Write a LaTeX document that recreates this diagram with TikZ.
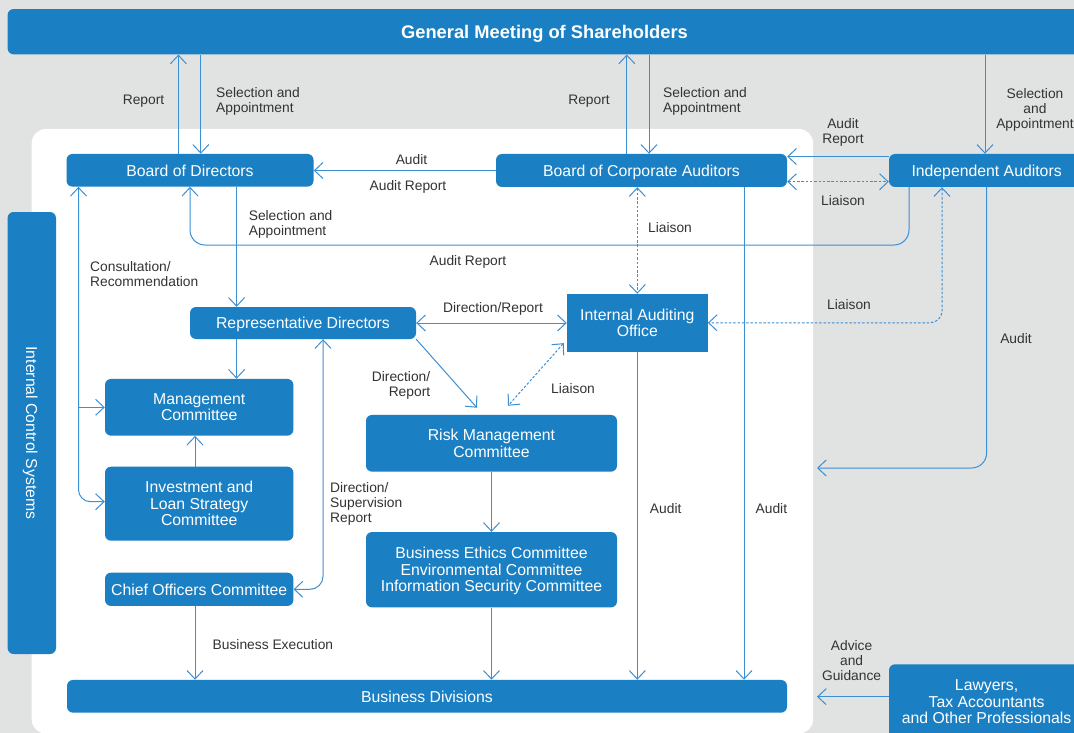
\documentclass[tikz,border=0pt]{standalone}
\usepackage{fontspec}
\setmainfont{Liberation Sans}
\usetikzlibrary{arrows.meta}
\definecolor{boxblue}{HTML}{1A7FC3}
\definecolor{lineblue}{HTML}{3D8FD3}
\definecolor{bggray}{HTML}{E1E2E2}
\definecolor{lbl}{HTML}{333333}
\begin{document}
\begin{tikzpicture}[x=1pt,y=-1pt,
  box/.style={fill=boxblue, text=white, rounded corners=6pt, inner sep=0pt, align=center, text depth=0pt, font=\fontsize{15.8}{16.5}\selectfont},
  lab/.style={text=lbl, inner sep=0pt, font=\fontsize{13.8}{15}\selectfont},
  conn/.style={draw=lineblue, line width=1pt, >={Straight Barb[length=8.5pt,width=16pt]}},
  dotconn/.style={conn, dash pattern=on 2.5pt off 1.8pt},
]
\useasboundingbox (0,0) rectangle (1074,733);
\clip (0,0) rectangle (1074,733);
\fill[bggray] (0,0) rectangle (1074,733);
\fill[white, rounded corners=14pt] (31.7,129) rectangle (813,733.5);

% boxes
\node[box, minimum width=1073.8pt, minimum height=45.3pt, font=\bfseries\fontsize{18.3}{20}\selectfont] (gm) at (544.5,31.7) {General Meeting of Shareholders};
\node[box, minimum width=247pt, minimum height=32.7pt] (bod) at (190,170.3) {Board of Directors};
\node[box, minimum width=291pt, minimum height=33pt] (bca) at (641.5,170.5) {Board of Corporate Auditors};
\node[box, minimum width=195.2pt, minimum height=33pt] (ia) at (986.6,170.5) {Independent Auditors};
\node[box, rotate=-90, minimum width=442pt, minimum height=48.4pt] (ics) at (31.8,433) {Internal Control Systems};
\node[box, minimum width=226pt, minimum height=32pt] (rep) at (303,323) {Representative Directors};
\node[box, sharp corners, minimum width=140.7pt, minimum height=57.7pt] (iao) at (637.3,322.8) {Internal Auditing\\Office};
\node[box, minimum width=188.4pt, minimum height=56.7pt] (mc) at (199.2,407.3) {Management\\Committee};
\node[box, minimum width=188.4pt, minimum height=74pt] (ilsc) at (199.2,503.7) {Investment and\\Loan Strategy\\Committee};
\node[box, minimum width=188.4pt, minimum height=33.3pt] (coc) at (199.2,589.3) {Chief Officers Committee};
\node[box, minimum width=251pt, minimum height=56.7pt] (rmc) at (491.5,443.3) {Risk Management\\Committee};
\node[box, minimum width=251pt, minimum height=75.3pt] (eth) at (491.5,569.7) {Business Ethics Committee\\Environmental Committee\\Information Security Committee};
\node[box, minimum width=720pt, minimum height=32.7pt] (bd) at (427,696.3) {Business Divisions};
\node[box, minimum width=195.2pt, minimum height=74.8pt] (law) at (986.6,701.7) {Lawyers,\\Tax Accountants\\and Other Professionals};

% connectors
\draw[conn,->] ([xshift=-11.6pt]bod.north) -- ([xshift=-11.6pt]bod.north |- gm.south);
\draw[conn,->] ([xshift=10.8pt]bod.north |- gm.south) -- ([xshift=10.8pt]bod.north);
\draw[conn,->] ([xshift=-14.7pt]bca.north) -- ([xshift=-14.7pt]bca.north |- gm.south);
\draw[conn,->] ([xshift=7.5pt]bca.north |- gm.south) -- ([xshift=7.5pt]bca.north);
\draw[conn,->] ([xshift=-1.6pt]ia.north |- gm.south) -- ([xshift=-1.6pt]ia.north);
\draw[conn,->] (bca.west) -- (bca.west -| bod.east);
\draw[conn,->] ([yshift=14pt]ia.west) -- ([yshift=14pt]ia.west -| bca.east);
\draw[dotconn,<->] ([yshift=-11.2pt]bca.east) -- ([yshift=-11.2pt]bca.east -| ia.west);
\draw[conn,->] ([xshift=46.6pt]bod.south) -- ([xshift=46.6pt]bod.south |- rep.north);
\coordinate (arc) at (190,245);
\draw[conn,->,rounded corners=15pt] ([xshift=-77.6pt]ia.south) |- (arc) -- (bod.south);
\draw[conn,<->,rounded corners=12pt] ([xshift=-111.5pt]bod.south) |- ([yshift=2pt]ilsc.west);
\draw[conn,->] ([xshift=-111.5pt]bod.south |- mc.west) -- (mc.west);
\draw[conn,->] ([xshift=-66.4pt]rep.south) -- ([xshift=-66.4pt]rep.south |- mc.north);
\draw[conn,->] ([xshift=-4.2pt]ilsc.north) -- ([xshift=-4.2pt]ilsc.north |- mc.south);
\draw[conn,<->,rounded corners=13pt] ([xshift=20pt]rep.south) |- (coc.east);
\draw[conn,->] (rep.south east) -- ([xshift=-14.5pt,yshift=7pt]rmc.north);
\draw[dotconn,<->] ([xshift=-3pt,yshift=8.7pt]iao.south west) -- ([xshift=16.5pt,yshift=9pt]rmc.north);
\draw[conn,<->] (rep.east) -- (rep.east -| iao.west);
\draw[dotconn,<->] (iao.north |- bca.south) -- (iao.north);
\draw[dotconn,<->,rounded corners=12pt] ([xshift=-44.6pt]ia.south) |- (iao.east);
\coordinate (auditend) at (817,468);
\draw[conn,->,rounded corners=15pt] (ia.south) |- (auditend);
\draw[conn,->] (iao.south) -- (iao.south |- bd.north);
\draw[conn,->] ([xshift=102.5pt]bca.south) -- ([xshift=102.5pt]bca.south |- bd.north);
\draw[conn,->] (rmc.south) -- (eth.north);
\draw[conn,->] (eth.south) -- (eth.south |- bd.north);
\draw[conn,->] ([xshift=-4.2pt]coc.south) -- ([xshift=-4.2pt]coc.south |- bd.north);
\coordinate (advend) at (817,696.7);
\draw[conn,->] (law.west |- advend) -- (advend);

% labels
\node[lab] (l1) at (143.5,101) {Report};
\node[lab, anchor=west, align=left] (l2) at (216,101.3) {Selection and\\Appointment};
\node[lab] (l3) at (589,101) {Report};
\node[lab, anchor=west, align=left] (l4) at (663,101.3) {Selection and\\Appointment};
\node[lab, align=center] (l5) at (1035,109.5) {Selection\\and\\Appointment};
\node[lab] (l6) at (411.5,159.5) {Audit};
\node[lab] (l7) at (408,186.5) {Audit Report};
\node[lab, align=center] (l8) at (843,132) {Audit\\Report};
\node[lab] (l9) at (843,200.5) {Liaison};
\node[lab, anchor=west, align=left] (l10) at (248.6,224) {Selection and\\Appointment};
\node[lab] (l11) at (670,227.5) {Liaison};
\node[lab] (l12) at (468,261.5) {Audit Report};
\node[lab, anchor=west, align=left] (l13) at (90,274) {Consultation/\\Recommendation};
\node[lab] (l14) at (493,308.8) {Direction/Report};
\node[lab] (l15) at (849,304.5) {Liaison};
\node[lab] (l16) at (1016,338.5) {Audit};
\node[lab, anchor=east, align=right] (l17) at (430.4,385.5) {Direction/\\Report};
\node[lab] (l18) at (573,388.5) {Liaison};
\node[lab, anchor=west, align=left] (l19) at (330,504.2) {Direction/\\Supervision\\Report};
\node[lab] (l20) at (665.7,508.5) {Audit};
\node[lab] (l21) at (771.4,508.5) {Audit};
\node[lab, anchor=west] (l22) at (212.5,644.8) {Business Execution};
\node[lab, align=center] (l23) at (851.6,660.2) {Advice\\and\\Guidance};
\end{tikzpicture}
\end{document}
